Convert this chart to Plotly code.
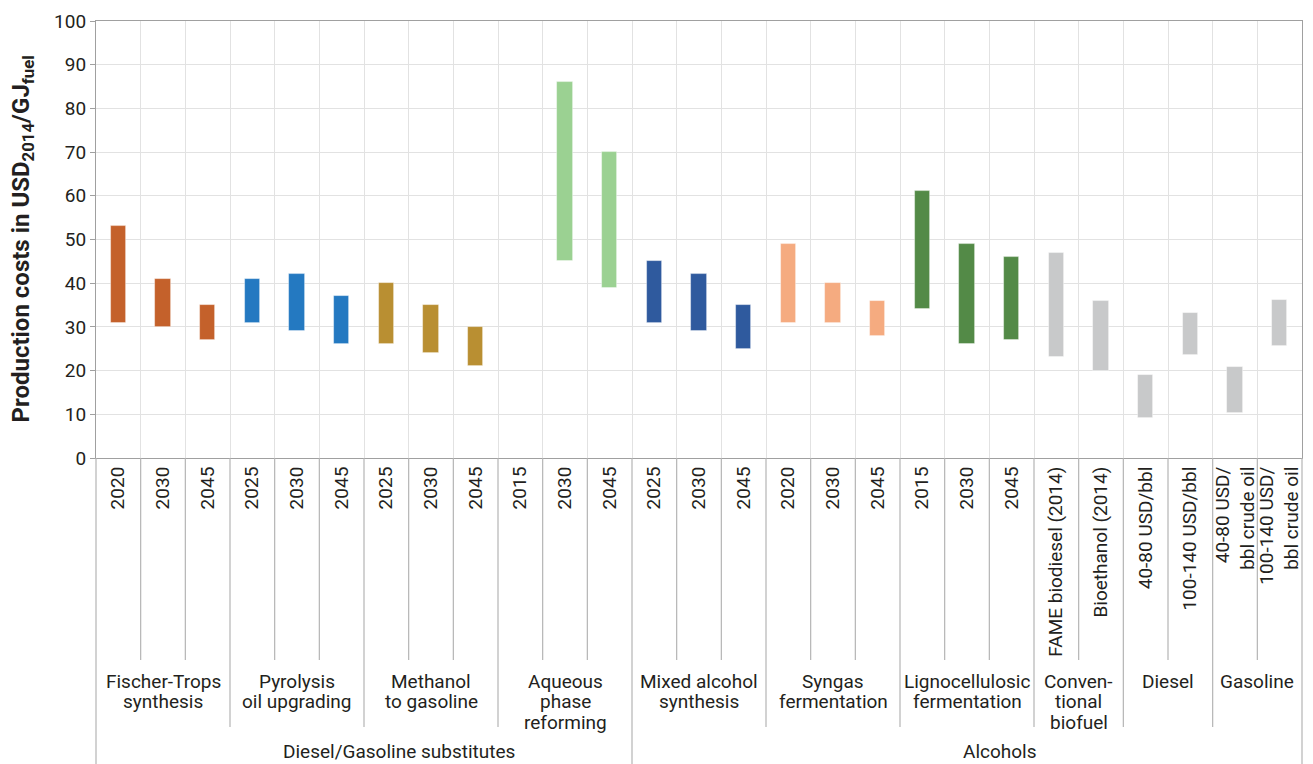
import plotly.graph_objects as go

# ---- data ----
tick_labels = [
    "2020", "2030", "2045",
    "2025", "2030", "2045",
    "2025", "2030", "2045",
    "2015", "2030", "2045",
    "2025", "2030", "2045",
    "2020", "2030", "2045",
    "2015", "2030", "2045",
    "FAME biodiesel (2014)", "Bioethanol (2014)",
    "40-80 USD/bbl", "100-140 USD/bbl",
    "40-80 USD/<br>bbl crude oil", "100-140 USD/<br>bbl crude oil",
]
low_values = [31, 30, 27, 31, 29, 26, 26, 24, 21, None, 45, 39,
              31, 29, 25, 31, 31, 28, 34, 26, 27, 23, 20, 9.2, 23.6, 10.2, 25.7]
high_values = [53, 41, 35, 41, 42, 37, 40, 35, 30, None, 86, 70,
               45, 42, 35, 49, 40, 36, 61, 49, 46, 47, 36, 19, 33.1, 20.8, 36.2]

group_labels = ["Fischer-Trops<br>synthesis", "Pyrolysis<br>oil upgrading",
                "Methanol<br>to gasoline", "Aqueous<br>phase<br>reforming",
                "Mixed alcohol<br>synthesis", "Syngas<br>fermentation",
                "Lignocellulosic<br>fermentation", "Conven-<br>tional<br>biofuel",
                "Diesel", "Gasoline"]
group_sizes = [3, 3, 3, 3, 3, 3, 3, 2, 2, 2]
group_colors = ["#C4612B", "#2479C1", "#B98F32", "#9BD192", "#2F5A9E",
                "#F5AB80", "#538A47", "#C8C9CA", "#C8C9CA", "#C8C9CA"]

super_labels = ["Diesel/Gasoline substitutes", "Alcohols"]
super_label_x_px = [399, 1000]
n_groups_first_super = 4  # first super group spans the first 4 groups

y_title = "<b>Production costs in USD<sub>2014</sub>/GJ<sub>fuel</sub></b>"

# ---- geometry ----
W, H = 1313, 764
ML, MR, MT, MB = 96, 11, 21, 306
plot_h = H - MT - MB
plot_w = W - ML - MR
n = len(tick_labels)

xs = list(range(n))
colors = []
for g, s in enumerate(group_sizes):
    colors += [group_colors[g]] * s

bar_base = [l if l is not None else 0 for l in low_values]
bar_len = [(h - l) if (h is not None and l is not None) else None
           for h, l in zip(high_values, low_values)]

font_family = "Roboto, 'Open Sans', sans-serif"
txt_color = "#231F20"
lab_size = 19

fig = go.Figure()
fig.add_trace(go.Bar(
    x=xs, y=bar_len, base=bar_base, width=0.34,
    marker=dict(color=colors, line=dict(width=0.8, color="rgba(255,255,255,0.5)")),
    hoverinfo="skip",
))

def xpaper(v):
    return (v + 0.5) / n

def ypaper(py):
    return (H - MB - py) / plot_h

def xpaper_px(px):
    return (px - ML) / plot_w

# separator lines below the axis
acc = 0
group_bounds = []
for s in group_sizes:
    acc += s
    group_bounds.append(acc - 0.5)
super_x = group_bounds[n_groups_first_super - 1]
group_ends = set(group_bounds[:-1])

sep_color = "#B4B4B4"
shapes = []
for k in range(n + 1):
    xb = k - 0.5
    if k == 0 or k == n or abs(xb - super_x) < 1e-9:
        y_end = ypaper(H + 2)
    elif xb in group_ends:
        y_end = ypaper(727)
    else:
        y_end = ypaper(660)
    shapes.append(dict(type="line", xref="paper", yref="paper",
                       x0=xpaper(xb), x1=xpaper(xb), y0=0, y1=y_end,
                       line=dict(color=sep_color, width=1.2)))
fig.update_layout(shapes=shapes)

# group labels (one annotation per line for tighter line spacing)
annotations = []
start = 0
line_step = 20.5
for lab, s in zip(group_labels, group_sizes):
    center = start + (s - 1) / 2
    for i, line in enumerate(lab.split("<br>")):
        annotations.append(dict(
            x=xpaper(center), y=ypaper(681 + i * line_step), xref="paper", yref="paper",
            text=line, showarrow=False, xanchor="center", yanchor="middle",
            font=dict(size=lab_size, color=txt_color, family=font_family)))
    start += s
for lab, px in zip(super_labels, super_label_x_px):
    annotations.append(dict(
        x=xpaper_px(px), y=ypaper(751), xref="paper", yref="paper",
        text=lab, showarrow=False, xanchor="center", yanchor="middle",
        font=dict(size=lab_size, color=txt_color, family=font_family)))
# y-axis title as rotated annotation
annotations.append(dict(
    x=xpaper_px(22), y=0.5, xref="paper", yref="paper", text=y_title,
    textangle=-90, showarrow=False, xanchor="center", yanchor="middle",
    font=dict(size=24, color=txt_color, family=font_family)))
fig.update_layout(annotations=annotations)

fig.update_layout(
    width=W, height=H,
    margin=dict(l=ML, r=MR, t=MT, b=MB, autoexpand=False),
    plot_bgcolor="white", paper_bgcolor="white",
    showlegend=False, bargap=0,
    font=dict(family=font_family, color=txt_color),
)
fig.update_xaxes(
    range=[-0.5, n - 0.5], tickmode="array", tickvals=xs, ticktext=tick_labels,
    tickangle=-90, ticks="", showgrid=False, zeroline=False, automargin=False,
    showline=True, linecolor="#A0A0A0", linewidth=1.2, mirror=True,
    tickfont=dict(size=lab_size, color=txt_color, family=font_family),
    minor=dict(tickmode="array", tickvals=[k - 0.5 for k in range(n + 1)],
               showgrid=True, gridcolor="#E2E2E2", gridwidth=1.2, ticks=""),
)
fig.update_yaxes(
    range=[0, 100], tickmode="linear", tick0=0, dtick=10, automargin=False,
    showgrid=True, gridcolor="#E2E2E2", gridwidth=1.2, zeroline=False,
    showline=True, linecolor="#A0A0A0", linewidth=1.2, mirror=True,
    ticks="outside", ticklen=5, tickcolor="#A0A0A0",
    tickfont=dict(size=lab_size, color=txt_color, family=font_family),
)

fig.write_html(
    "out.html",
    config={"displayModeBar": False},
    post_script="document.body.style.margin='0';document.body.style.overflow='hidden';",
)
